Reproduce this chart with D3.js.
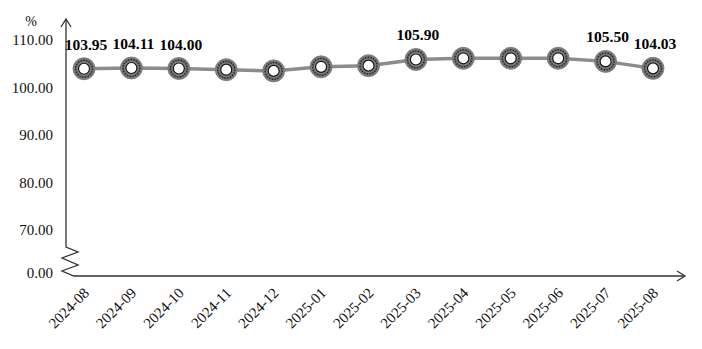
<!DOCTYPE html>
<html>
<head>
<meta charset="utf-8">
<script src="https://cdn.jsdelivr.net/npm/d3@7"></script>
<style>
  body { margin: 0; background: #fff; }
  text { font-family: "Liberation Serif", "Times New Roman", serif; }
</style>
</head>
<body>
<div id="chart"></div>
<script>
// months on the x axis
const months = ["2024-08", "2024-09", "2024-10", "2024-11", "2024-12", "2025-01", "2025-02",
    "2025-03", "2025-04", "2025-05", "2025-06", "2025-07", "2025-08"];
// index values (%)
const values = [103.95, 104.11, 104.00, 103.75, 103.5, 104.35, 104.6,
    105.90, 106.15, 106.15, 106.15, 105.50, 104.03];
// which points carry a value label
const labelled = [true, true, true, false, false, false, false,
    true, false, false, false, true, true];
const yTicks = [70, 80, 90, 100, 110];

const width = 702, height = 349;
const svg = d3.select("#chart").append("svg")
    .attr("width", width)
    .attr("height", height);

const x = d3.scalePoint().domain(months).range([84, 653]);
const y = d3.scaleLinear().domain([70, 110]).range([230, 40]);

const axisX = 66, axisY = 276;

// gradient for the ring markers
const defs = svg.append("defs");
const grad = defs.append("radialGradient").attr("id", "ring");
grad.append("stop").attr("offset", "45%").attr("stop-color", "#a0a0a0");
grad.append("stop").attr("offset", "75%").attr("stop-color", "#606060");
grad.append("stop").attr("offset", "100%").attr("stop-color", "#909090");

// y axis with the break zigzag
svg.append("path")
    .attr("d", `M${axisX},20 L${axisX},247 L78,252 L62,258 L78,265 L62,271 L74,${axisY} L684,${axisY}`)
    .attr("fill", "none")
    .attr("stroke", "#333")
    .attr("stroke-width", 1.3);

// arrow heads
svg.append("path")
    .attr("d", `M${axisX - 5},27 L${axisX},19 L${axisX + 5},27`)
    .attr("fill", "none").attr("stroke", "#333").attr("stroke-width", 1.3);
svg.append("path")
    .attr("d", `M677,${axisY - 5} L685,${axisY} L677,${axisY + 5}`)
    .attr("fill", "none").attr("stroke", "#333").attr("stroke-width", 1.3);

// y tick labels
svg.selectAll(".ytick")
    .data(yTicks)
    .enter()
    .append("text")
    .attr("class", "ytick")
    .attr("x", 53)
    .attr("y", d => y(d))
    .attr("dy", "0.35em")
    .attr("text-anchor", "end")
    .attr("font-size", 15)
    .attr("fill", "#111")
    .text(d => d3.format(".2f")(d));

svg.append("text")
    .attr("x", 53).attr("y", 273).attr("dy", "0.35em")
    .attr("text-anchor", "end").attr("font-size", 15).attr("fill", "#111")
    .text("0.00");

svg.append("text")
    .attr("x", 31).attr("y", 26)
    .attr("text-anchor", "middle").attr("font-size", 14).attr("fill", "#111")
    .text("%");

// x tick labels, rotated
svg.selectAll(".xtick")
    .data(months)
    .enter()
    .append("text")
    .attr("class", "xtick")
    .attr("transform", d => `translate(${x(d) + 6},294) rotate(-45)`)
    .attr("text-anchor", "end")
    .attr("font-size", 15)
    .attr("fill", "#111")
    .text(d => d);

// the line
const line = d3.line()
    .x((d, i) => x(months[i]))
    .y(d => y(d));

svg.append("path")
    .datum(values)
    .attr("d", line)
    .attr("fill", "none")
    .attr("stroke", "#8c8c8c")
    .attr("stroke-width", 3.5);

// ring markers
const marks = svg.selectAll(".mark")
    .data(values)
    .enter()
    .append("g")
    .attr("class", "mark")
    .attr("transform", (d, i) => `translate(${x(months[i])},${y(d)})`);

marks.append("circle").attr("r", 11).attr("fill", "url(#ring)")
    .attr("stroke", "#707070").attr("stroke-width", 0.8);
marks.append("circle").attr("r", 8.5).attr("fill", "none")
    .attr("stroke", "#1a1a1a").attr("stroke-width", 1.4)
    .attr("stroke-dasharray", "1 1.8");
marks.append("circle").attr("r", 5.5).attr("fill", "#fff")
    .attr("stroke", "#111").attr("stroke-width", 1.2);

// value labels
svg.selectAll(".vlabel")
    .data(values.map((v, i) => ({ v, i })).filter(d => labelled[d.i]))
    .enter()
    .append("text")
    .attr("class", "vlabel")
    .attr("x", d => x(months[d.i]) + 2)
    .attr("y", d => y(d.v) - 19)
    .attr("text-anchor", "middle")
    .attr("font-size", 15.5)
    .attr("font-weight", "bold")
    .attr("fill", "#000")
    .text(d => d3.format(".2f")(d.v));
</script>
</body>
</html>
